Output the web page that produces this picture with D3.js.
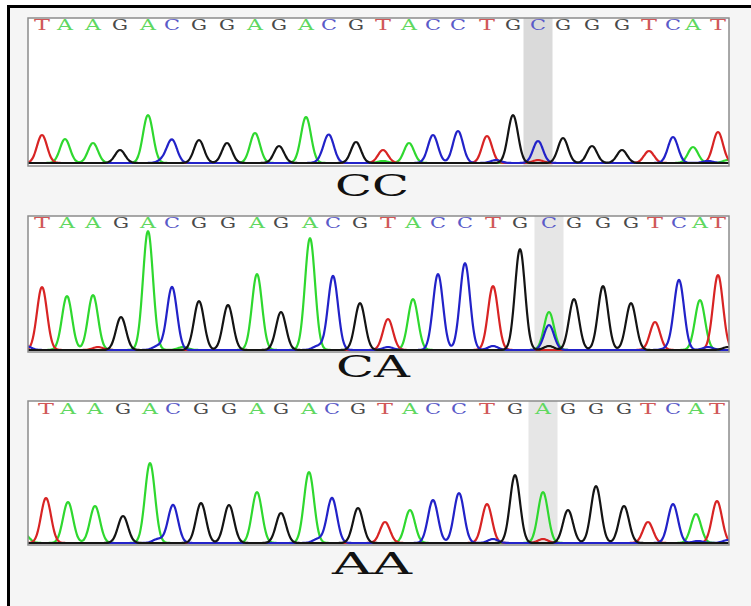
<!DOCTYPE html>
<html>
<head>
<meta charset="utf-8">
<script src="https://cdn.jsdelivr.net/npm/d3@7"></script>
<style>
body{margin:0;background:#fff;}
text.base, text.geno{font-family:"DejaVu Serif","Liberation Serif",serif;}
</style>
</head>
<body>
<svg id="chart" width="751" height="606"></svg>
<script>
// data
var sequence = "TAAGACGGAGACGTACCTGCGGGTCAT".split("");
var variantIndex = 19;
var genotypes = ["CC","CA","AA"];
var variantCall = ["C","C","A"];

// peak positions (scan units) per sample
var posCC = [14,37,65,92,120,144,171,199,227,251,278,301,328,355,381,405,430,459,485,510,535,564,594,621,645,665,690];
var posCA = [14,39,65,93,120,144,171,200,229,253,282,305,332,360,385,410,437,465,492,521,546,575,603,627,651,672,690];
var posAA = [18,40,67,95,122,145,173,201,229,253,281,304,330,357,382,405,431,459,487,515,540,568,596,620,645,668,689];

// peak heights (signal) per sample
var heightsCC = [28,24,20,13,48,23,23,20,30,17,46,27,21,13,20,28,32,27,48,22,25,17,13,12,26,16,31];
var heightsCA = [63,54,55,33,119,63,49,45,76,38,112,74,47,31,51,76,87,64,101,25,51,64,47,28,70,50,75];
var heightsAA = [45,41,37,27,80,38,40,38,51,30,71,45,35,21,33,43,50,39,68,51,33,57,37,18,39,29,42];

// second allele at the variant site (index, base, height)
var extraCC = [];
var extraCA = [[19,"A",38]];
var extraAA = [];

// small background bumps (scan position, base, height)
var minorCC = [[135,"C",3],[295,"C",3],[355,"A",2],[468,"C",3],[510,"T",3],[680,"C",2],[700,"A",3]];
var minorCA = [[-2,"C",4],[130,"C",4],[70,"T",3],[155,"A",3],[290,"C",4],[360,"C",3],[465,"C",4],[521,"G",4],[640,"C",2],[680,"C",3],[700,"G",3]];
var minorAA = [[-4,"A",9],[130,"C",4],[290,"C",4],[465,"C",4],[515,"T",4],[620,"T",3],[670,"C",2],[700,"C",3]];

var samples = [
  {pos:posCC, h:heightsCC, extra:extraCC, minor:minorCC},
  {pos:posCA, h:heightsCA, extra:extraCA, minor:minorCA},
  {pos:posAA, h:heightsAA, extra:extraAA, minor:minorAA}
];

// layout
var boxes = [
  {top:18, bottom:166, base:163, letterY:30, labelY:196, labelX:335, labelW:74},
  {top:216, bottom:352, base:350, letterY:228, labelY:377, labelX:336, labelW:74},
  {top:401, bottom:545, base:543, letterY:414, labelY:574, labelX:332, labelW:80}
];
var traceColor = {A:"#2fd82f", C:"#2222c8", G:"#141414", T:"#d82424"};
var letterColor = {A:"#5fd85f", C:"#5a5ac8", G:"#4a4a4a", T:"#d05858"};
var sigma = 5;

var svg = d3.select("#chart");

// frame
svg.append("rect").attr("x",8.5).attr("y",6.5).attr("width",760).attr("height",620)
  .attr("fill","#f5f5f5").attr("stroke","#000").attr("stroke-width",3);

var x = d3.scaleLinear().domain([0,700]).range([28,728]);
var scans = d3.range(-10, 711, 1);

samples.forEach(function(s, k){
  var b = boxes[k];
  var y = d3.scaleLinear().domain([0,100]).range([b.base, b.base-100]);
  var g = svg.append("g");

  var clipId = "clip"+k;
  svg.append("clipPath").attr("id",clipId).append("rect")
    .attr("x",28).attr("y",b.top).attr("width",701).attr("height",b.bottom-b.top);

  g.append("rect").attr("x",28).attr("y",b.top).attr("width",701).attr("height",b.bottom-b.top)
    .attr("fill","#fff");

  // highlight on variant column
  var vx = x(s.pos[variantIndex]);
  g.append("rect").attr("x",vx-14.5).attr("y",b.top).attr("width",29).attr("height",b.bottom-b.top)
    .attr("fill", k===0 ? "#dadada" : "#e6e6e6");

  // base calls
  var calls = sequence.map(function(c,i){ return i===variantIndex ? variantCall[k] : c; });
  g.selectAll("text.base").data(calls).enter().append("text")
    .attr("class","base")
    .attr("x",function(d,i){ return x(s.pos[i]) - 8; })
    .attr("y",b.letterY)
    .attr("textLength",16)
    .attr("lengthAdjust","spacingAndGlyphs")
    .attr("font-size",14)
    .attr("fill",function(d){ return letterColor[d]; })
    .text(function(d){ return d; });

  // peaks
  var peaks = calls.map(function(c,i){ return {p:s.pos[i], base:c, h:s.h[i]}; });
  s.extra.forEach(function(e){ peaks.push({p:s.pos[e[0]], base:e[1], h:e[2]}); });
  s.minor.forEach(function(m){ peaks.push({p:m[0], base:m[1], h:m[2]}); });

  var line = d3.line().x(function(d){ return x(d[0]); }).y(function(d){ return y(d[1]); })
    .curve(d3.curveMonotoneX);

  ["A","T","C","G"].forEach(function(ch){
    var pts = scans.map(function(sc){
      var v = 0;
      peaks.forEach(function(p){
        if(p.base===ch){
          var z = (sc-p.p)/sigma;
          v += p.h*Math.exp(-0.5*z*z);
        }
      });
      return [sc, v];
    });
    g.append("path").datum(pts).attr("d",line)
      .attr("clip-path","url(#"+clipId+")")
      .attr("fill","none").attr("stroke",traceColor[ch]).attr("stroke-width",2.2)
      .attr("stroke-linejoin","round");
  });

  g.append("rect").attr("x",28).attr("y",b.top).attr("width",701).attr("height",b.bottom-b.top)
    .attr("fill","none").attr("stroke","#8c8c8c").attr("stroke-width",1.5);

  // genotype label
  svg.append("text").attr("class","geno").attr("x",b.labelX).attr("y",b.labelY)
    .attr("textLength",b.labelW).attr("lengthAdjust","spacingAndGlyphs")
    .attr("font-size",29).attr("fill","#111")
    .text(genotypes[k]);
});
</script>
</body>
</html>
